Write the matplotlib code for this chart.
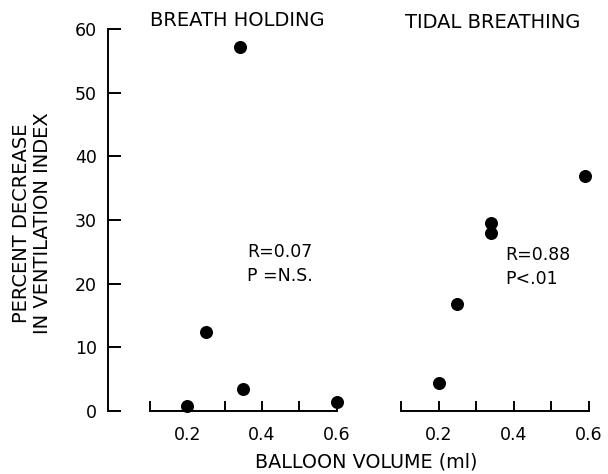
"""Percent decrease in ventilation index vs balloon volume, two panels."""
import matplotlib
matplotlib.use("Agg")
import matplotlib.pyplot as plt

# data
breath_vol = [0.20, 0.25, 0.34, 0.35, 0.60]
breath_dec = [0.7, 12.3, 57.2, 3.4, 1.3]
tidal_vol = [0.20, 0.25, 0.34, 0.34, 0.59]
tidal_dec = [4.3, 16.8, 27.9, 29.5, 36.9]

x_major = [0.2, 0.4, 0.6]
x_minor = [0.1, 0.3, 0.5]
y_ticks = [0, 10, 20, 30, 40, 50, 60]

W, H = 608, 474
plt.rcParams["font.family"] = ["DejaVu Sans"]

fig = plt.figure(figsize=(W / 100, H / 100), dpi=100)


def px_axes(left, right, bottom_from_top, height):
    return fig.add_axes([left / W, (H - bottom_from_top) / H,
                         (right - left) / W, height / H])


def style_xaxis(ax):
    ax.set_xticks(x_major)
    ax.set_xticklabels([f"{v:.1f}" for v in x_major])
    ax.set_xticks(x_minor, minor=True)
    ax.tick_params(axis="x", which="both", direction="in", length=7.5,
                   width=1.4, pad=11, labelsize=12.5)
    ax.spines["bottom"].set_bounds(0.1, 0.6)
    ax.spines["bottom"].set_linewidth(1.4)
    for s in ("top", "right"):
        ax.spines[s].set_visible(False)
    ax.set_ylim(0, 62)
    ax.patch.set_visible(False)


# left panel: breath holding
axL = px_axes(108, 355.2, 410.7, 394.3)
axL.set_xlim(-0.0126, 0.65)
style_xaxis(axL)
axL.set_yticks(y_ticks)
axL.tick_params(axis="y", direction="in", length=9.5, width=1.4, pad=8,
                labelsize=12.5)
axL.spines["left"].set_bounds(0, 60)
axL.spines["left"].set_linewidth(1.4)
axL.scatter(breath_vol, breath_dec, s=70, color="black", clip_on=False, zorder=5)
axL.text(0.360, 24.9, "R=0.07", fontsize=12.5, va="center")
axL.text(0.360, 21.2, "P =N.S.", fontsize=12.5, va="center")

# right panel: tidal breathing
axR = px_axes(382.2, 607.8, 410.7, 394.3)
axR.set_xlim(0.05, 0.65)
style_xaxis(axR)
axR.spines["left"].set_visible(False)
axR.set_yticks([])
axR.scatter(tidal_vol, tidal_dec, s=70, color="black", clip_on=False, zorder=5)
axR.text(0.377, 24.5, "R=0.88", fontsize=12.5, va="center")
axR.text(0.377, 20.7, "P<.01", fontsize=12.5, va="center")

# titles and labels
fig.text(150 / W, 1 - 20 / H, "BREATH HOLDING", fontsize=14, va="center")
fig.text(405 / W, 1 - 22 / H, "TIDAL BREATHING", fontsize=14, va="center")
fig.text(22 / W, 1 - 223 / H, "PERCENT DECREASE", fontsize=14,
         rotation=90, ha="center", va="center")
fig.text(43 / W, 1 - 223 / H, "IN VENTILATION INDEX", fontsize=14,
         rotation=90, ha="center", va="center")
fig.text(366 / W, 1 - 462 / H, "BALLOON VOLUME (ml)", fontsize=13.8,
         ha="center", va="center")

fig.savefig("out.png", dpi=100)
